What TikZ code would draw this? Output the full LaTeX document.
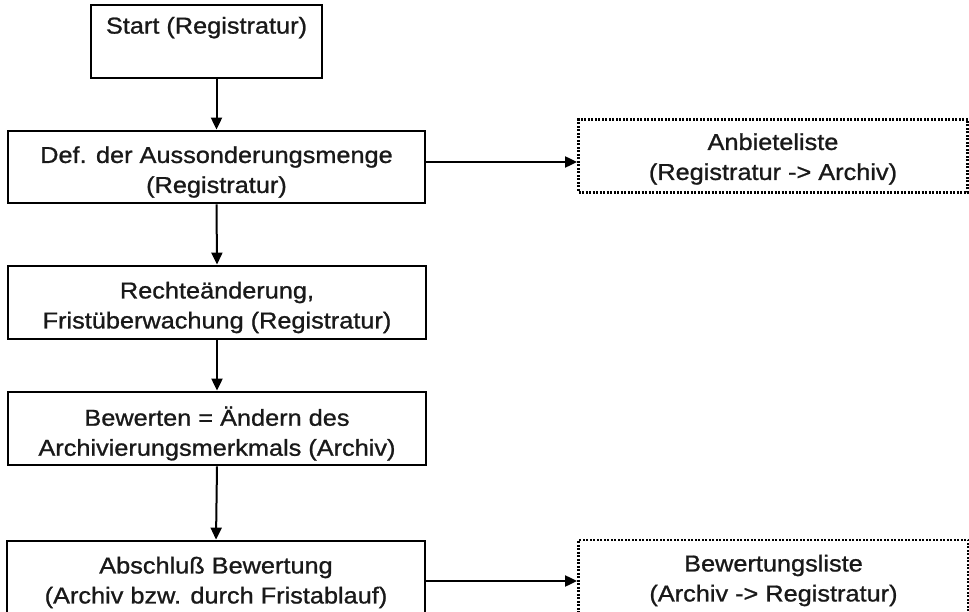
\documentclass[tikz,border=0pt]{standalone}
\usepackage{fontspec}
\setmainfont[FakeStretch=1.1,FakeBold=1]{Liberation Sans}
\usetikzlibrary{arrows.meta,calc}
\begin{document}
\begin{tikzpicture}[x=1pt,y=-1pt,
  every node/.style={font=\fontsize{23}{30}\selectfont, text=black!90},
  stepbox/.style={draw, line width=2.8pt, rectangle, inner sep=0pt, minimum height=73pt},
  listbox/.style={draw, line width=2.8pt, dash pattern=on 2pt off 1.5pt,
    rectangle, inner sep=0pt, minimum height=73pt, minimum width=389pt},
  boxtext/.style={align=center, inner sep=0pt},
  arr/.style={line width=2pt, -{Triangle[length=12pt,width=11pt]}}
]
\useasboundingbox (0,0) rectangle (969,612);
\fill[white] (0,0) rectangle (969,612);

% process steps (frames)
\node[stepbox, minimum width=231pt] (start) at (206.5,41.5) {};
\node[stepbox, minimum width=417pt, minimum height=72pt] (def) at (216.5,167) {};
\node[stepbox, minimum width=418pt] (recht) at (217,302.5) {};
\node[stepbox, minimum width=418pt] (bew) at (217,428.5) {};
\node[stepbox, minimum width=418pt] (absch) at (216,577.5) {};

% generated lists (frames)
\node[listbox] (anb) at (773,156) {};
\node[listbox, minimum width=390pt] (bwl) at (773.5,576.5) {};

% labels
\node[boxtext, anchor=base] (start-t) at ([yshift=-30pt]start.north) {Start (Registratur)};
\node[boxtext] (def-t) at ([yshift=-5pt]def.center) {Def. der Aussonderungsmenge\\(Registratur)};
\node[boxtext] (recht-t) at ([yshift=-5pt]recht.center) {Rechteänderung,\\Fristüberwachung (Registratur)};
\node[boxtext] (bew-t) at ([yshift=-5pt]bew.center) {Bewerten = Ändern des\\Archivierungsmerkmals (Archiv)};
\node[boxtext] (absch-t) at ([yshift=-5pt]absch.center) {Abschluß Bewertung\\(Archiv bzw. durch Fristablauf)};
\node[boxtext] (anb-t) at ([yshift=-3pt]anb.center) {Anbieteliste\\(Registratur -> Archiv)};
\node[boxtext] (bwl-t) at ([yshift=-4pt]bwl.center) {Bewertungsliste\\(Archiv -> Registratur)};

% flow
\draw[arr] (def.north |- start.south) -- (def.north);
\draw[arr] (def.south) -- (recht.north);
\draw[arr] (recht.south) -- (bew.north);
\draw[arr] (bew.south) -- (absch.north);
\draw[arr] ([yshift=5pt]def.east) -- ([yshift=5pt]def.east -| anb.west);
\draw[arr] ([yshift=-3.5pt]absch.east) -- ([yshift=-3.5pt]absch.east -| bwl.west);
\end{tikzpicture}
\end{document}
